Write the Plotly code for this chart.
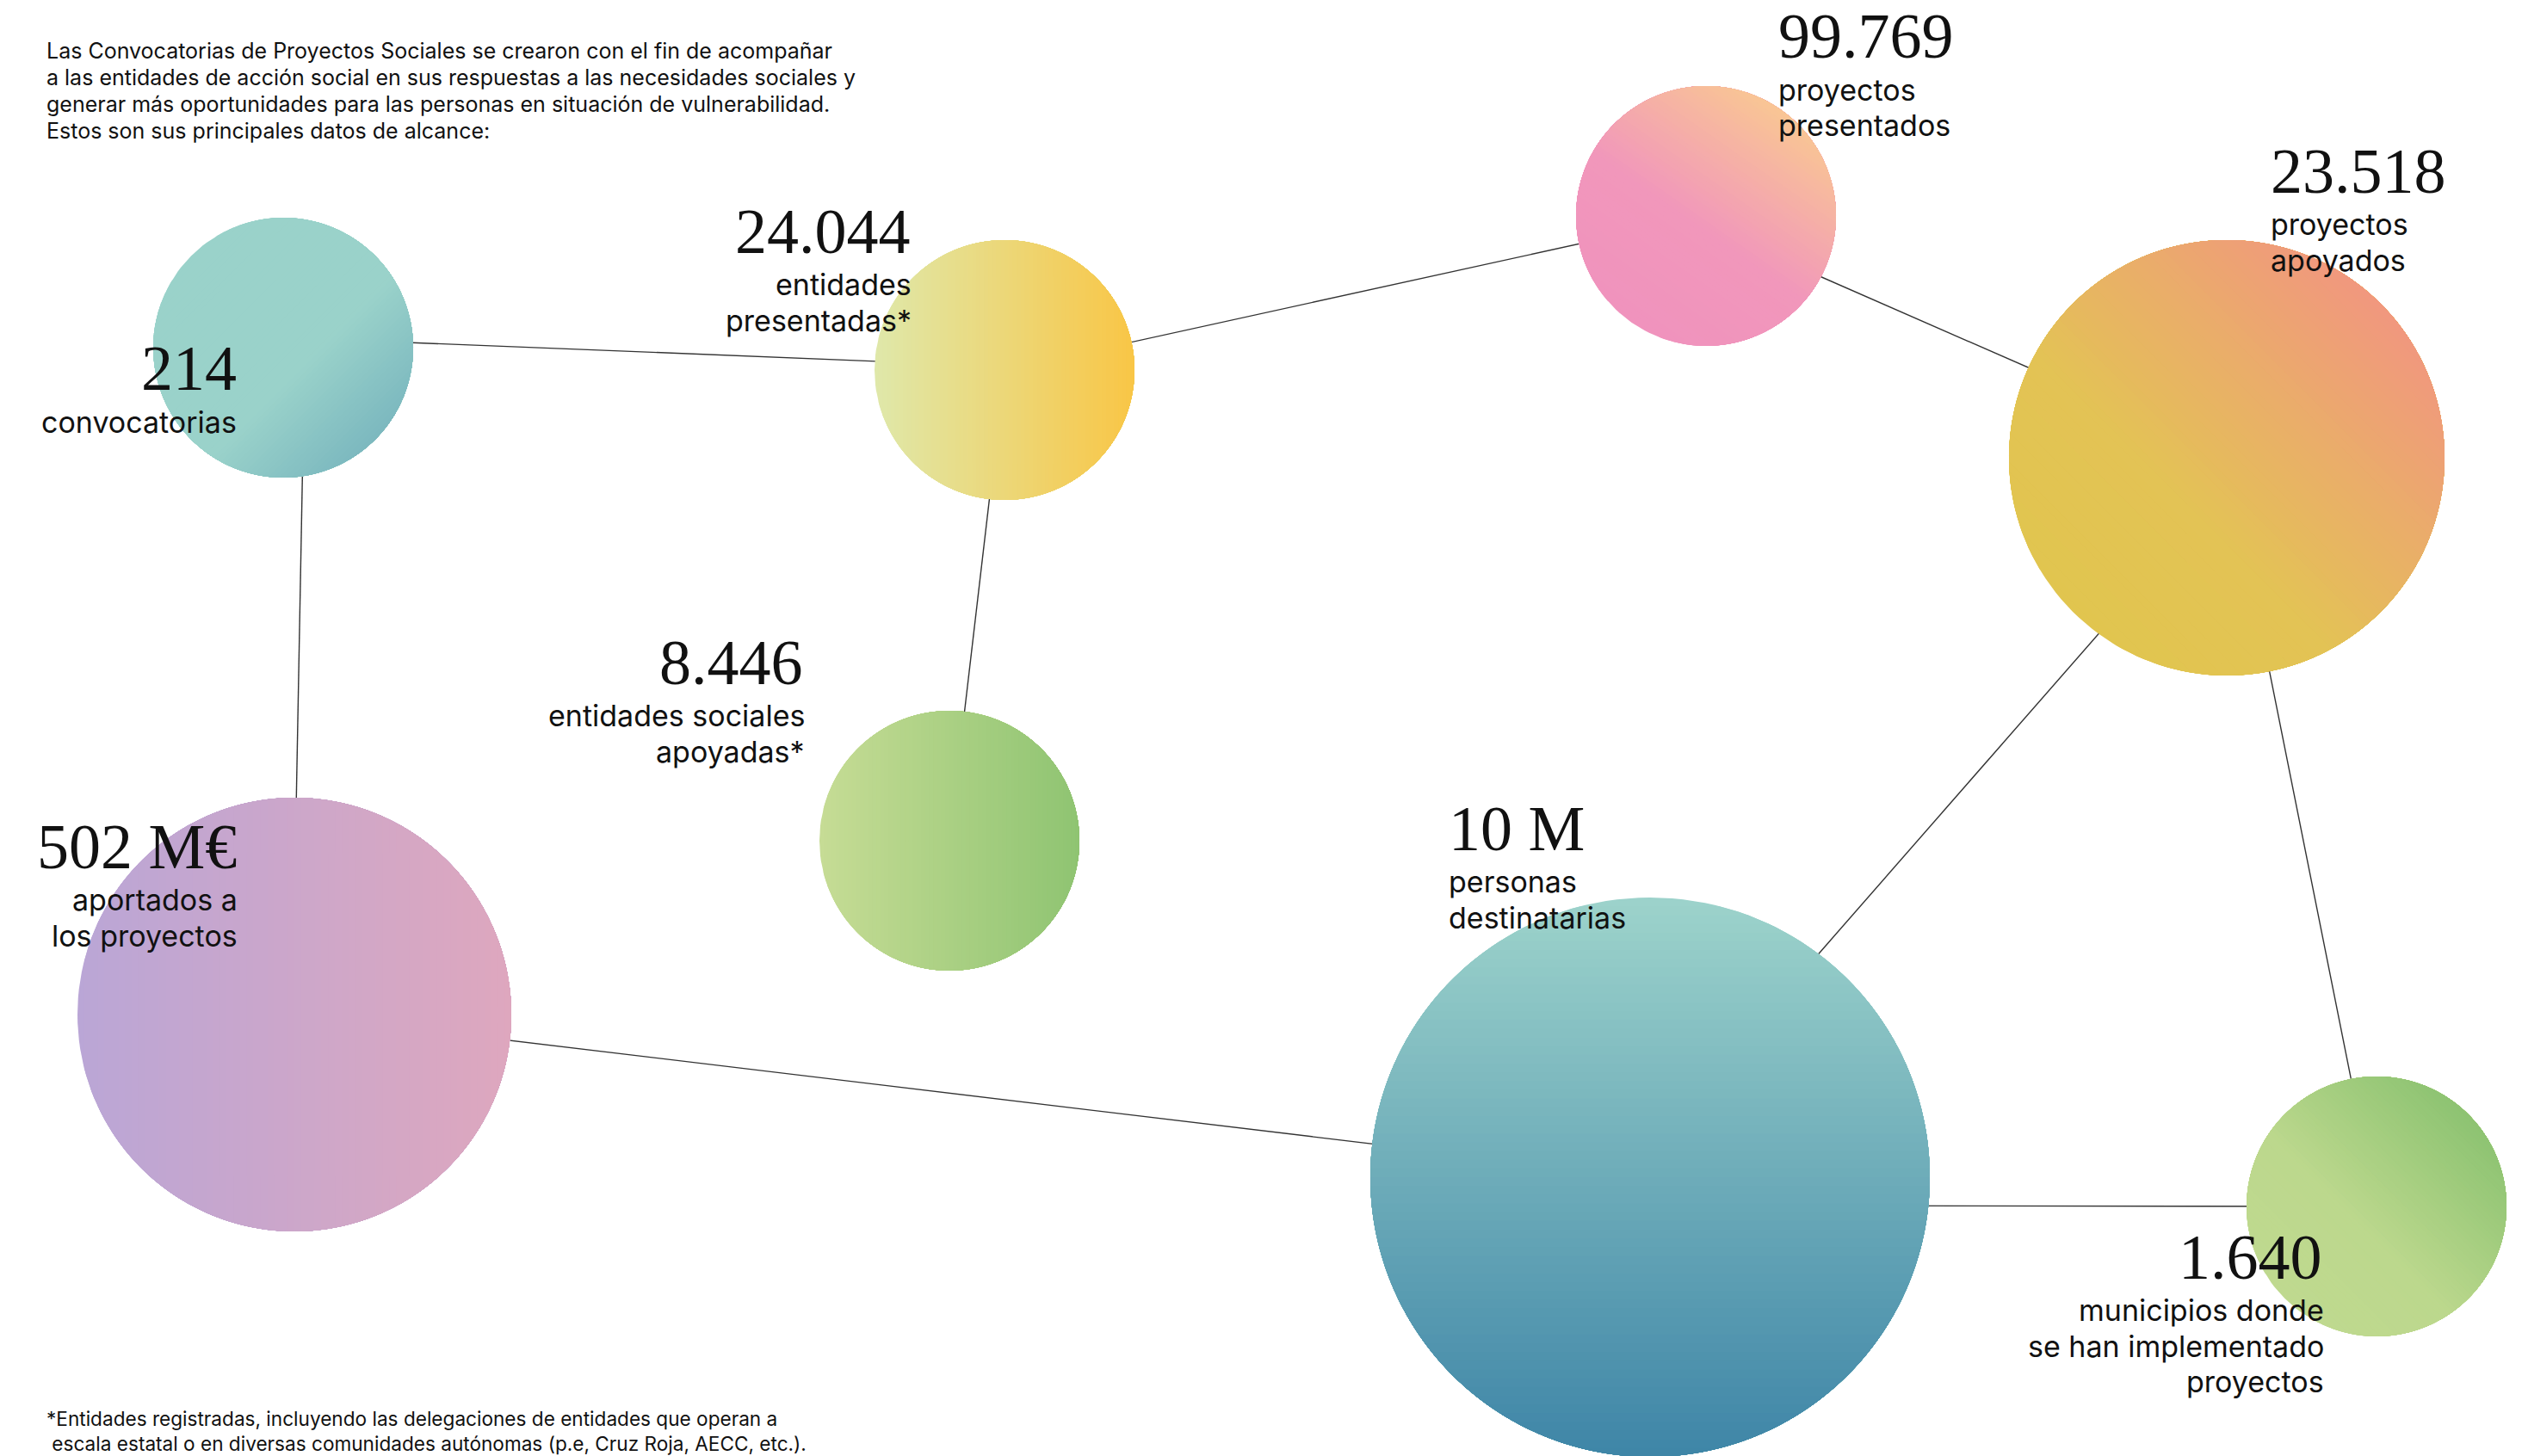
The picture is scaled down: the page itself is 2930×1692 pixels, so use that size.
import numpy as np
import plotly.graph_objects as go

# ---------------- data ----------------
values = ["214", "24.044", "99.769", "23.518", "8.446", "502 M€", "10 M", "1.640"]
labels = [
    ["convocatorias"],
    ["entidades", "presentadas*"],
    ["proyectos", "presentados"],
    ["proyectos", "apoyados"],
    ["entidades sociales", "apoyadas*"],
    ["aportados a", "los proyectos"],
    ["personas", "destinatarias"],
    ["municipios donde", "se han implementado", "proyectos"],
]
intro = ["Las Convocatorias de Proyectos Sociales se crearon con el fin de acompañar",
         "a las entidades de acción social en sus respuestas a las necesidades sociales y",
         "generar más oportunidades para las personas en situación de vulnerabilidad.",
         "Estos son sus principales datos de alcance:"]
footnote = ["*Entidades registradas, incluyendo las delegaciones de entidades que operan a",
            " escala estatal o en diversas comunidades autónomas (p.e, Cruz Roja, AECC, etc.)."]

# connections between nodes (index pairs)
edges = [(0, 1), (1, 2), (2, 3), (1, 4), (0, 5), (5, 6), (6, 3), (3, 7), (6, 7)]

# ---------------- layout (canvas coordinates) ----------------
node_x = [329, 1167, 1982, 2587, 1103, 342, 1917, 2761]
node_y = [404, 430, 251, 532, 977, 1179, 1368, 1402]
node_r = [151, 151, 151, 253, 151, 252, 325, 151]
# anchor offsets of connection ends relative to node centres
edge_off = [((45, -10), (-45, -6)), ((0, 0), (0, 0)), ((75, 45), (-160, -74)),
            ((0, 0), (0, 0)), ((24, 60), (0, -130)), ((0, 0), (0, 0)),
            ((100, -150), (-75, 120)), ((0, 0), (0, 0)), ((140, 33), (0, 0))]

# gradient: direction angle (deg, screen), stops, colours
grad_angle = [45, 0, -55, -45, 0, 0, 90, -45]
grad_stops = [[0, 0.6, 1], [0, 1], [0, 0.45, 1], [0, 0.35, 1], [0, 1], [0, 1], [0, 1], [0, 0.4, 1]]
grad_cols = [
    ["#9AD2CA", "#9AD2CA", "#7CB8BF"],
    ["#DFE8AA", "#F9C646"],
    ["#F093BD", "#F197BB", "#F9C694"],
    ["#E1C54F", "#E3C355", "#F1977F"],
    ["#C6DC95", "#8FC472"],
    ["#BAA6D6", "#DEA7BE"],
    ["#9DD3CB", "#3E85A7"],
    ["#BFD98F", "#BCD88D", "#8DC372"],
]

# number (x, y-centre, side) and first label line (x, y-centre)
num_pos = [(275, 427.5, "right"), (1058, 268.5, "right"), (2066, 42, "left"),
           (2638, 198.5, "left"), (933, 769.5, "right"), (275, 983.5, "right"),
           (1683, 962.5, "left"), (2698, 1460.5, "right")]
lab_pos = [(275, 490), (1059, 330.5), (2066, 104), (2638, 260.5),
           (935, 831.5), (276, 1045.5), (1683, 1024.5), (2700, 1522.5)]
LAB_STEP = 41.5

SERIF = "Liberation Serif"
SANS = "Inter"


def hex2rgb(h):
    h = h.lstrip("#")
    return np.array([int(h[i:i + 2], 16) for i in (0, 2, 4)], dtype=float)


def interp(stops, cols, t):
    rgb = [hex2rgb(c) for c in cols]
    for i in range(len(stops) - 1):
        if t <= stops[i + 1]:
            f = (t - stops[i]) / (stops[i + 1] - stops[i])
            c = rgb[i] * (1 - f) + rgb[i + 1] * f
            return "rgb(%d,%d,%d)" % tuple(np.round(c))
    return "rgb(%d,%d,%d)" % tuple(np.round(rgb[-1]))


fig = go.Figure()

# connection lines
for (a, b), (oa, ob) in zip(edges, edge_off):
    fig.add_trace(go.Scatter(
        x=[node_x[a] + oa[0], node_x[b] + ob[0]],
        y=[node_y[a] + oa[1], node_y[b] + ob[1]],
        mode="lines", line=dict(color="#333333", width=1.4),
        hoverinfo="skip", showlegend=False))

# gradient circles built from overlapping circle segments
N = 64
for k in range(len(values)):
    cx, cy, r = node_x[k], node_y[k], node_r[k]
    phi = np.deg2rad(grad_angle[k])
    for i in range(N):
        t = -r + 2 * r * i / N
        alpha = np.arccos(np.clip(t / r, -1, 1))
        th = np.linspace(phi - alpha, phi + alpha, 160)
        xs = cx + r * np.cos(th)
        ys = cy + r * np.sin(th)
        col = interp(grad_stops[k], grad_cols[k], (i + 0.5) / N)
        fig.add_trace(go.Scatter(
            x=np.append(xs, xs[0]), y=np.append(ys, ys[0]),
            mode="lines", fill="toself", fillcolor=col,
            line=dict(width=0, color=col), hoverinfo="skip", showlegend=False))

# texts
for k in range(len(values)):
    nx, ny, anc = num_pos[k]
    fig.add_annotation(x=nx, y=ny, xref="x", yref="y", text=values[k], showarrow=False,
                       xanchor=anc, yanchor="middle", align=anc, borderpad=0, borderwidth=0,
                       font=dict(family=SERIF, size=74, color="#111111"))
    lx, ly = lab_pos[k]
    for j, line in enumerate(labels[k]):
        fig.add_annotation(x=lx, y=ly + j * LAB_STEP, xref="x", yref="y", text=line,
                           showarrow=False, xanchor=anc, yanchor="middle", align=anc,
                           borderpad=0, borderwidth=0,
                           font=dict(family=SANS, size=34, color="#111111"))

for j, line in enumerate(intro):
    fig.add_annotation(x=54, y=59 + j * 31, xref="x", yref="y", text=line, showarrow=False,
                       xanchor="left", yanchor="middle", align="left", borderpad=0,
                       borderwidth=0, font=dict(family=SANS, size=25, color="#111111"))
for j, line in enumerate(footnote):
    fig.add_annotation(x=54, y=1648 + j * 29.5, xref="x", yref="y", text=line, showarrow=False,
                       xanchor="left", yanchor="middle", align="left", borderpad=0,
                       borderwidth=0, font=dict(family=SANS, size=22.6, color="#111111"))

fig.update_xaxes(range=[0, 2930], visible=False, fixedrange=True)
fig.update_yaxes(range=[1692, 0], visible=False, fixedrange=True)
fig.update_layout(width=2930, height=1692, margin=dict(l=0, r=0, t=0, b=0),
                  paper_bgcolor="white", plot_bgcolor="white", showlegend=False)

fig.write_html("out.html", config={"displayModeBar": False, "staticPlot": True},
               post_script="document.body.style.margin='0px';document.body.style.overflow='hidden';")
